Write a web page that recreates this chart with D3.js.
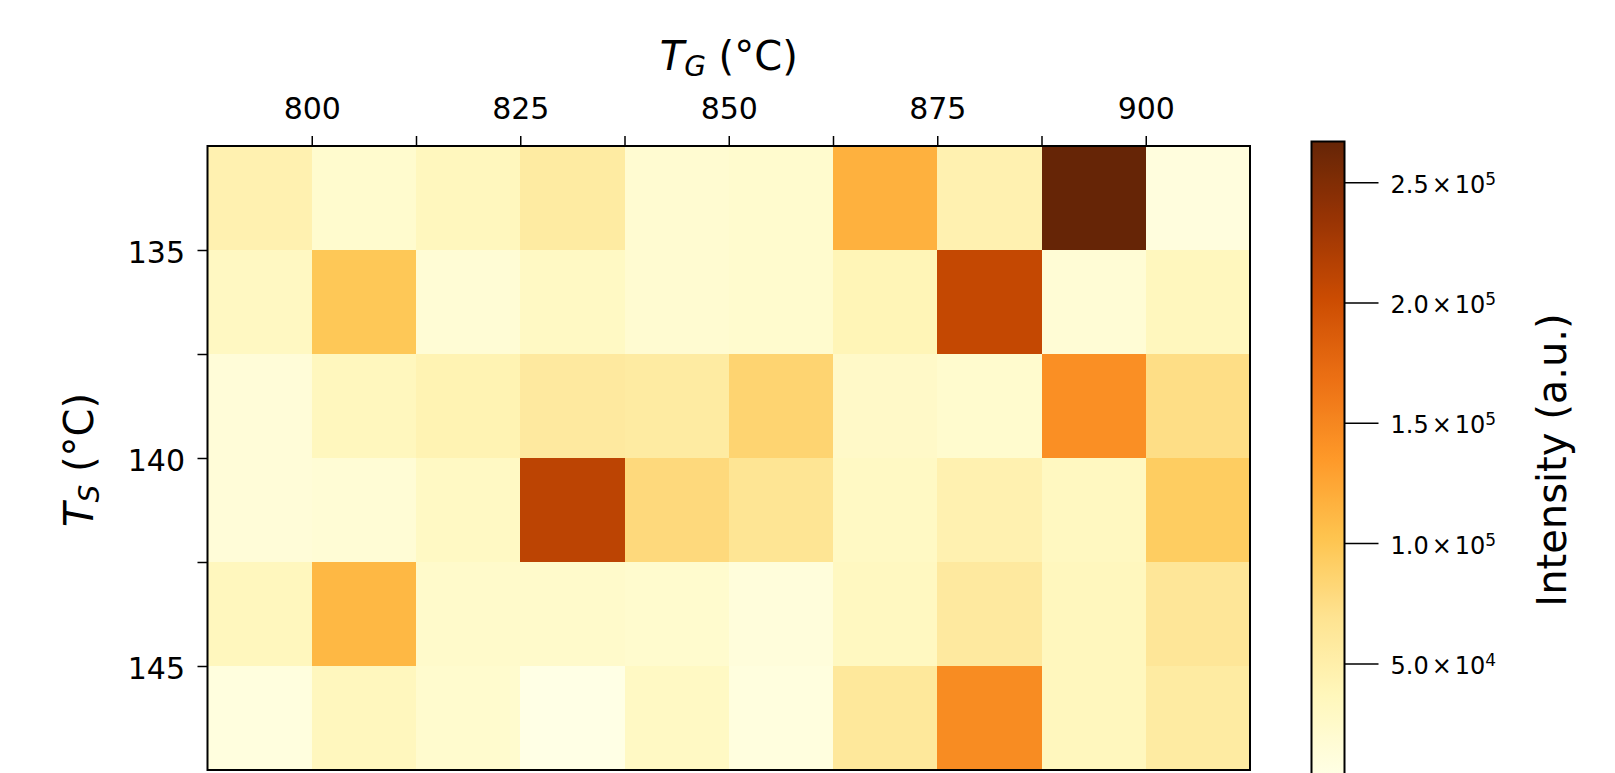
<!DOCTYPE html>
<html>
<head>
<meta charset="utf-8">
<script src="https://cdn.jsdelivr.net/npm/d3@7"></script>
<style>
  body { margin: 0; background: #fff; }
  svg { display: block; font-family: "DejaVu Sans", sans-serif; }
</style>
</head>
<body>
<div id="chart"></div>
<script>
const width = 1615;
const height = 773;

// bin edges: growth temperature T_G (left edges) and T_S (top edges), in °C
const tgBins = [787.5, 800, 812.5, 825, 837.5, 850, 862.5, 875, 887.5, 900];
const tsBins = [132.5, 135, 137.5, 140, 142.5, 145];
const tgStep = 12.5;
const tsStep = 2.5;

// intensity (a.u.), one row per T_S bin, one value per T_G bin
const intensity = [
  [45400, 21700, 34800, 55900, 19000, 21700, 116600, 45400, 266900, 9500],
  [31000, 98100, 16400, 29600, 19000, 21700, 40100, 206200, 16400, 34800],
  [13700, 34800, 42800, 58600, 55900, 85000, 26900, 21700, 143000, 74400],
  [13700, 16400, 29600, 211500, 79700, 66500, 29600, 45400, 32200, 92900],
  [34800, 111300, 24300, 24300, 21700, 11100, 32200, 58600, 34800, 63900],
  [8500, 34800, 21700, 3200, 29600, 8500, 61200, 145600, 34800, 55900]
];

const tgLabels = [800, 825, 850, 875, 900];
const tsLabels = [135, 140, 145];
const cbTicks = [5e4, 1e5, 1.5e5, 2e5, 2.5e5];

// YlOrBr, the matplotlib / ColorBrewer stops
const ylorbr = ["#ffffe5", "#fff7bc", "#fee391", "#fec44f", "#fe9929",
                "#ec7014", "#cc4c02", "#993404", "#662506"];

const plot = {left: 207.5, right: 1250, top: 146, bottom: 770};
const cbar = {left: 1311.5, width: 33, top: 141.5, bottom: 776};

const cells = [];
intensity.forEach((row, i) => row.forEach((v, j) => {
  cells.push({tg: tgBins[j], ts: tsBins[i], value: v});
}));

const x = d3.scaleLinear()
    .domain([tgBins[0], tgBins[tgBins.length - 1] + tgStep])
    .range([plot.left, plot.right]);
const y = d3.scaleLinear()
    .domain([tsBins[0], tsBins[tsBins.length - 1] + tsStep])
    .range([plot.top, plot.bottom]);

const [vmin, vmax] = d3.extent(cells, d => d.value);
const color = d3.scaleLinear()
    .domain(ylorbr.map((c, i) => vmin + i / (ylorbr.length - 1) * (vmax - vmin)))
    .range(ylorbr)
    .interpolate(d3.interpolateRgb);

const svg = d3.select("#chart")
  .append("svg")
    .attr("width", width)
    .attr("height", height)
    .attr("viewBox", `0 0 ${width} ${height}`);

svg.append("rect")
    .attr("width", width)
    .attr("height", height)
    .attr("fill", "#fff");

// heatmap cells
svg.append("g")
    .attr("shape-rendering", "crispEdges")
  .selectAll("rect")
  .data(cells)
  .join("rect")
    .attr("x", d => x(d.tg))
    .attr("y", d => y(d.ts))
    .attr("width", d => x(d.tg + tgStep) - x(d.tg) + 0.5)
    .attr("height", d => y(d.ts + tsStep) - y(d.ts) + 0.5)
    .attr("fill", d => color(d.value));

// top axis (T_G), ticks on every bin edge, labels every 25 °C
const xAxis = svg.append("g")
    .attr("transform", `translate(0,${plot.top})`)
    .call(d3.axisTop(x)
      .tickValues(tgBins.slice(1))
      .tickSize(10)
      .tickPadding(17.5)
      .tickFormat(d => tgLabels.includes(d) ? d : ""));

// left axis (T_S)
const yAxis = svg.append("g")
    .attr("transform", `translate(${plot.left},0)`)
    .call(d3.axisLeft(y)
      .tickValues(tsBins.slice(1))
      .tickSize(10)
      .tickPadding(12.5)
      .tickFormat(d => tsLabels.includes(d) ? d : ""));

for (const ax of [xAxis, yAxis]) {
  ax.select(".domain").remove();
  ax.selectAll(".tick line").attr("stroke", "#000").attr("stroke-width", 1.5);
  ax.selectAll(".tick text")
      .attr("fill", "#000")
      .style("font-size", "30px")
      .style("font-family", "DejaVu Sans");
}
yAxis.selectAll(".tick text").attr("dy", "0.4em");

// frame
svg.append("rect")
    .attr("x", plot.left)
    .attr("y", plot.top)
    .attr("width", plot.right - plot.left)
    .attr("height", plot.bottom - plot.top)
    .attr("fill", "none")
    .attr("stroke", "#000")
    .attr("stroke-width", 2);

// axis titles
const xTitle = svg.append("text")
    .attr("x", (plot.left + plot.right) / 2)
    .attr("y", 70)
    .attr("text-anchor", "middle")
    .style("font-size", "40px");
xTitle.append("tspan").style("font-style", "italic").text("T");
xTitle.append("tspan").style("font-style", "italic").style("font-size", "28px")
    .attr("dy", 6).text("G");
xTitle.append("tspan").attr("dy", -6).text(" (°C)");

const yTitle = svg.append("text")
    .attr("transform", `translate(93,${(plot.top + plot.bottom) / 2 + 2}) rotate(-90)`)
    .attr("text-anchor", "middle")
    .style("font-size", "40px");
yTitle.append("tspan").style("font-style", "italic").text("T");
yTitle.append("tspan").style("font-style", "italic").style("font-size", "28px")
    .attr("dy", 6).text("S");
yTitle.append("tspan").attr("dy", -6).text(" (°C)");

// colorbar
const cb = d3.scaleLinear()
    .domain([vmin, vmax])
    .range([cbar.bottom, cbar.top]);

const grad = svg.append("defs")
  .append("linearGradient")
    .attr("id", "cbgrad")
    .attr("x1", 0).attr("y1", 1)
    .attr("x2", 0).attr("y2", 0);
grad.selectAll("stop")
  .data(d3.range(0, 1.0001, 1 / 64))
  .join("stop")
    .attr("offset", t => t)
    .attr("stop-color", t => color(vmin + t * (vmax - vmin)));

svg.append("rect")
    .attr("x", cbar.left)
    .attr("y", cbar.top)
    .attr("width", cbar.width)
    .attr("height", cbar.bottom - cbar.top)
    .attr("fill", "url(#cbgrad)")
    .attr("stroke", "#000")
    .attr("stroke-width", 2);

const cbAxis = svg.append("g")
    .attr("transform", `translate(${cbar.left + cbar.width},0)`)
    .call(d3.axisRight(cb)
      .tickValues(cbTicks)
      .tickSize(34)
      .tickPadding(12));
cbAxis.select(".domain").remove();
cbAxis.selectAll(".tick line").attr("stroke", "#000").attr("stroke-width", 1.5);
cbAxis.selectAll(".tick text")
    .attr("fill", "#000")
    .attr("dy", "0.42em")
    .style("font-size", "24px")
    .style("font-family", "DejaVu Sans")
    .each(function(d) {
      const exp = Math.floor(Math.log10(d));
      const mant = (d / Math.pow(10, exp)).toFixed(1);
      const t = d3.select(this).text(null);
      t.append("tspan").text(mant);
      t.append("tspan").attr("dx", 3).text("×");
      t.append("tspan").attr("dx", 3).text("10");
      t.append("tspan").style("font-size", "17px").attr("dy", -8).text(exp);
    });

svg.append("text")
    .attr("transform", `translate(1566,${(plot.top + plot.bottom) / 2 + 2}) rotate(-90)`)
    .attr("text-anchor", "middle")
    .style("font-size", "40px")
    .text("Intensity (a.u.)");
</script>
</body>
</html>
